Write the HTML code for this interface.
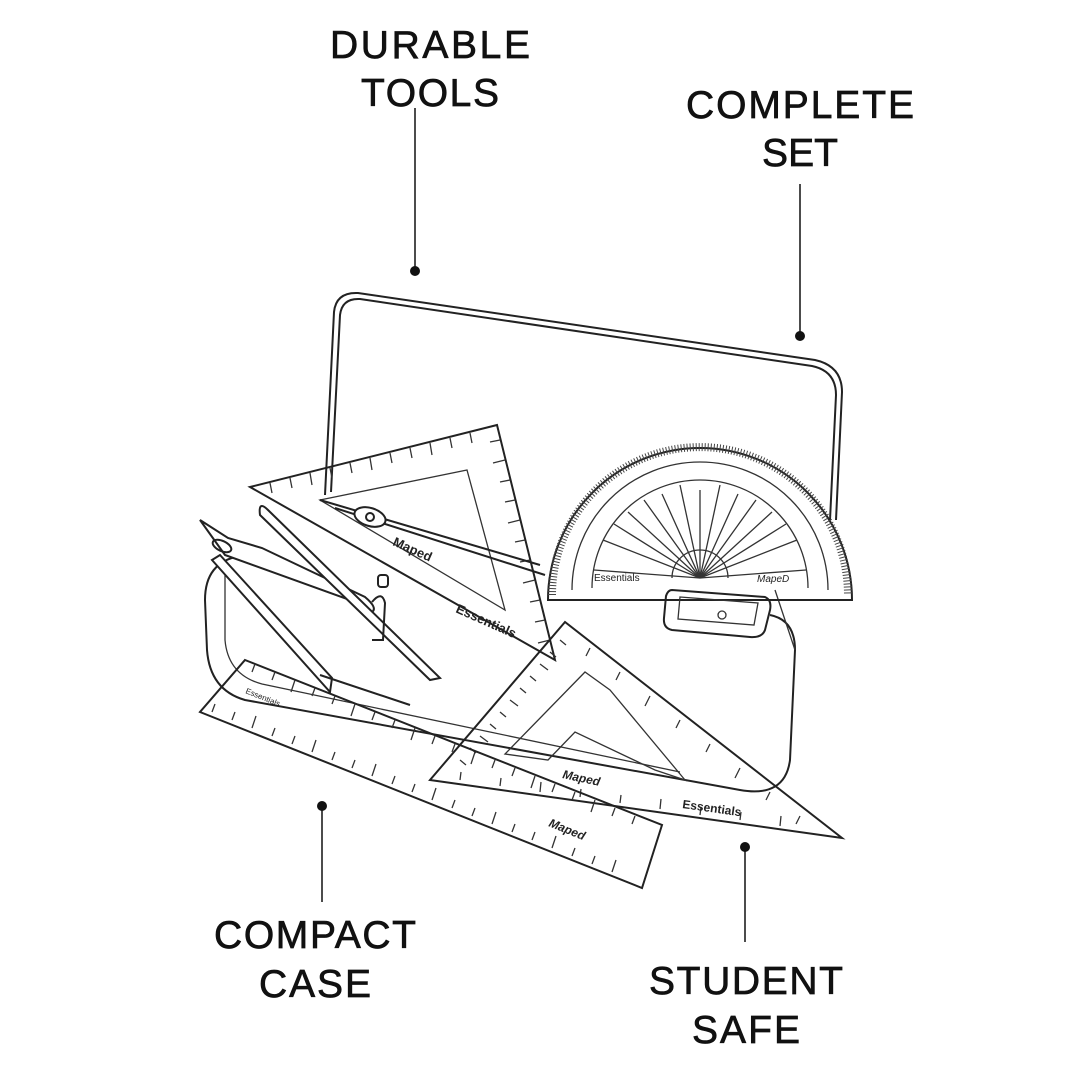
<!DOCTYPE html>
<html><head><meta charset="utf-8"><style>
html,body{margin:0;padding:0;background:#fff}
svg{display:block}
.l{font-family:"Liberation Sans",sans-serif;font-size:39px;fill:#111;stroke:#111;stroke-width:0.7px;text-anchor:middle}
.s{fill:none;stroke:#222;stroke-width:2}
.t{fill:none;stroke:#333;stroke-width:1.3}
.sm{font-family:"Liberation Sans",sans-serif;fill:#222}
</style></head><body>
<svg width="1080" height="1080" viewBox="0 0 1080 1080" xmlns="http://www.w3.org/2000/svg">
<rect width="1080" height="1080" fill="#fff"/>
<text class="l" x="430" y="58" textLength="200">DURABLE</text>
<text class="l" x="430" y="106" textLength="138">TOOLS</text>
<text class="l" x="800" y="118" textLength="228">COMPLETE</text>
<text class="l" x="800" y="166" textLength="76">SET</text>
<text class="l" x="315" y="948" textLength="202">COMPACT</text>
<text class="l" x="315" y="997" textLength="112">CASE</text>
<text class="l" x="746" y="994" textLength="194">STUDENT</text>
<text class="l" x="746" y="1043" textLength="108">SAFE</text>
<g stroke="#111" stroke-width="1.5">
<line x1="415" y1="108" x2="415" y2="270"/><line x1="800" y1="184" x2="800" y2="335"/>
<line x1="322" y1="806" x2="322" y2="902"/><line x1="745" y1="847" x2="745" y2="942"/>
</g>
<g fill="#111"><circle cx="415" cy="271" r="5"/><circle cx="800" cy="336" r="5"/><circle cx="322" cy="806" r="5"/><circle cx="745" cy="847" r="5"/></g>

<path class="s" d="M325 495 L334 312 Q336 292 358 293 L815 360 Q842 366 842 392 L836 520"/>
<path class="s" d="M331 492 L340 315 Q342 298 360 299 L812 366 Q836 371 836 395 L830 520"/>
<path class="s" d="M240 556 Q205 562 205 600 L207 650 Q210 690 245 700 L740 790 Q785 798 790 760 L795 650 Q795 620 770 615"/>
<path class="t" d="M225 560 L225 640 Q228 675 262 684 L680 772"/>
<path class="t" d="M795 650 L775 590"/>

<path class="s" d="M250 487 L497 425 L555 660 Z" fill="#fff" fill-opacity="0.6"/>
<path class="t" d="M320 500 L467 470 L505 610 Z"/>
<g class="t"><path d="M270 483 l2 10 M290 478 l2 10 M310 473 l2 12 M330 468 l2 10 M350 463 l2 10 M370 458 l2 12 M390 453 l2 10 M410 448 l2 10 M430 443 l2 12 M450 438 l2 10 M470 433 l2 10"/>
<path d="M500 440 l-10 2 M505 460 l-12 3 M510 480 l-10 2 M515 500 l-10 2 M520 520 l-12 3 M525 540 l-10 2 M530 560 l-10 2 M535 580 l-12 3 M540 600 l-10 2 M545 620 l-10 2 M550 640 l-12 3"/></g>
<text class="sm" x="455" y="612" font-size="13" font-weight="bold" transform="rotate(24 455 612)">Essentials</text>
<text class="sm" x="392" y="545" font-size="13" font-weight="bold" transform="rotate(24 392 545)">Maped</text>

<path class="s" d="M548 600 A152 152 0 0 1 852 600 Z" fill="#fff" fill-opacity="0.7"/>
<path class="t" d="M572 590 A128 128 0 0 1 828 590"/>
<path class="t" d="M592 588 A108 108 0 0 1 808 588"/>
<path class="t" d="M672 578 A28 28 0 0 1 728 578"/>
<g class="t">
<line x1="700" y1="578" x2="700" y2="490"/><line x1="700" y1="578" x2="738" y2="494"/><line x1="700" y1="578" x2="662" y2="494"/>
<line x1="700" y1="578" x2="772" y2="512"/><line x1="700" y1="578" x2="628" y2="512"/><line x1="700" y1="578" x2="797" y2="540"/>
<line x1="700" y1="578" x2="603" y2="540"/><line x1="700" y1="578" x2="806" y2="570"/><line x1="700" y1="578" x2="594" y2="570"/>
<line x1="700" y1="578" x2="720" y2="485"/><line x1="700" y1="578" x2="680" y2="485"/><line x1="700" y1="578" x2="756" y2="500"/><line x1="700" y1="578" x2="644" y2="500"/><line x1="700" y1="578" x2="786" y2="524"/><line x1="700" y1="578" x2="614" y2="524"/>
</g>
<path d="M552 595 A148 148 0 0 1 848 595" fill="none" stroke="#444" stroke-width="8" stroke-dasharray="1 2"/>
<text class="sm" x="594" y="581" font-size="10">Essentials</text>
<text class="sm" x="757" y="582" font-size="10" font-style="italic">MapeD</text>

<path class="s" d="M672 590 L765 597 Q772 600 770 610 L765 630 Q762 638 750 637 L672 630 Q663 628 664 618 L666 596 Q668 590 672 590 Z" fill="#fff"/>
<path class="t" d="M680 597 L758 603 L754 625 L678 619 Z"/><circle cx="722" cy="615" r="4" class="t"/>

<g class="s">
<path d="M200 520 L228 538 L262 548 L365 597 Q378 608 372 612 L350 600 L225 555 Z" fill="#fff"/>
<ellipse cx="222" cy="546" rx="10" ry="5" transform="rotate(25 222 546)"/>
<path d="M220 555 L332 678 L330 692 L212 560 Z" fill="#fff"/>
<path d="M320 675 L410 705 M268 510 L440 678 L430 680 L260 515 Q258 500 268 510 Z" fill="#fff"/>
<path d="M372 602 Q382 590 385 603 L383 640 L372 640"/>
<path d="M320 500 L540 565 M335 508 L545 575"/>
<ellipse cx="370" cy="517" rx="16" ry="9" transform="rotate(17 370 517)" fill="#fff"/>
<circle cx="370" cy="517" r="4"/>
<rect x="378" y="575" width="10" height="12" rx="3"/>
</g>

<path class="s" d="M565 622 L430 780 L842 838 Z" fill="#fff" fill-opacity="0.7"/>
<path class="t" d="M585 672 L505 754 L548 760 L575 732 L655 770 L685 780 L610 690 Z"/>
<g class="t"><path d="M560 640 l6 5 M550 652 l6 5 M540 664 l8 6 M530 676 l6 5 M520 688 l6 5 M510 700 l8 6 M500 712 l6 5 M490 724 l6 5 M480 736 l8 6 M470 748 l6 5 M460 760 l6 5"/>
<path d="M590 648 l-4 8 M620 672 l-4 8 M650 696 l-5 10 M680 720 l-4 8 M710 744 l-4 8 M740 768 l-5 10 M770 792 l-4 8 M800 816 l-4 8"/>
<path d="M460 780 l1 -8 M500 786 l1 -8 M540 792 l1 -10 M580 797 l1 -8 M620 803 l1 -8 M660 809 l1 -10 M700 815 l1 -8 M740 820 l1 -8 M780 826 l1 -10"/></g>
<text class="sm" x="682" y="808" font-size="12" font-weight="bold" transform="rotate(8 682 808)">Essentials</text>
<text class="sm" x="562" y="778" font-size="12" font-weight="bold" font-style="italic" transform="rotate(12 562 778)">Maped</text>

<path class="s" d="M245 660 L662 825 L642 888 L200 712 Z" fill="#fff" fill-opacity="0.7"/>
<g class="t"><path d="M255 664 l-3 8 M275 672 l-3 8 M295 680 l-4 12 M315 688 l-3 8 M335 696 l-3 8 M355 704 l-4 12 M375 712 l-3 8 M395 720 l-3 8 M415 728 l-4 12 M435 736 l-3 8 M455 744 l-3 8 M475 752 l-4 12 M495 760 l-3 8 M515 768 l-3 8 M535 776 l-4 12 M555 784 l-3 8 M575 792 l-3 8 M595 800 l-4 12 M615 808 l-3 8 M635 816 l-3 8"/>
<path d="M212 712 l3 -8 M232 720 l3 -8 M252 728 l4 -12 M272 736 l3 -8 M292 744 l3 -8 M312 752 l4 -12 M332 760 l3 -8 M352 768 l3 -8 M372 776 l4 -12 M392 784 l3 -8 M412 792 l3 -8 M432 800 l4 -12 M452 808 l3 -8 M472 816 l3 -8 M492 824 l4 -12 M512 832 l3 -8 M532 840 l3 -8 M552 848 l4 -12 M572 856 l3 -8 M592 864 l3 -8 M612 872 l4 -12"/></g>
<text class="sm" x="245" y="693" font-size="8" transform="rotate(22 245 693)">Essentials</text>
<text class="sm" x="548" y="826" font-size="12" font-weight="bold" font-style="italic" transform="rotate(22 548 826)">Maped</text>
</svg>
</body></html>
